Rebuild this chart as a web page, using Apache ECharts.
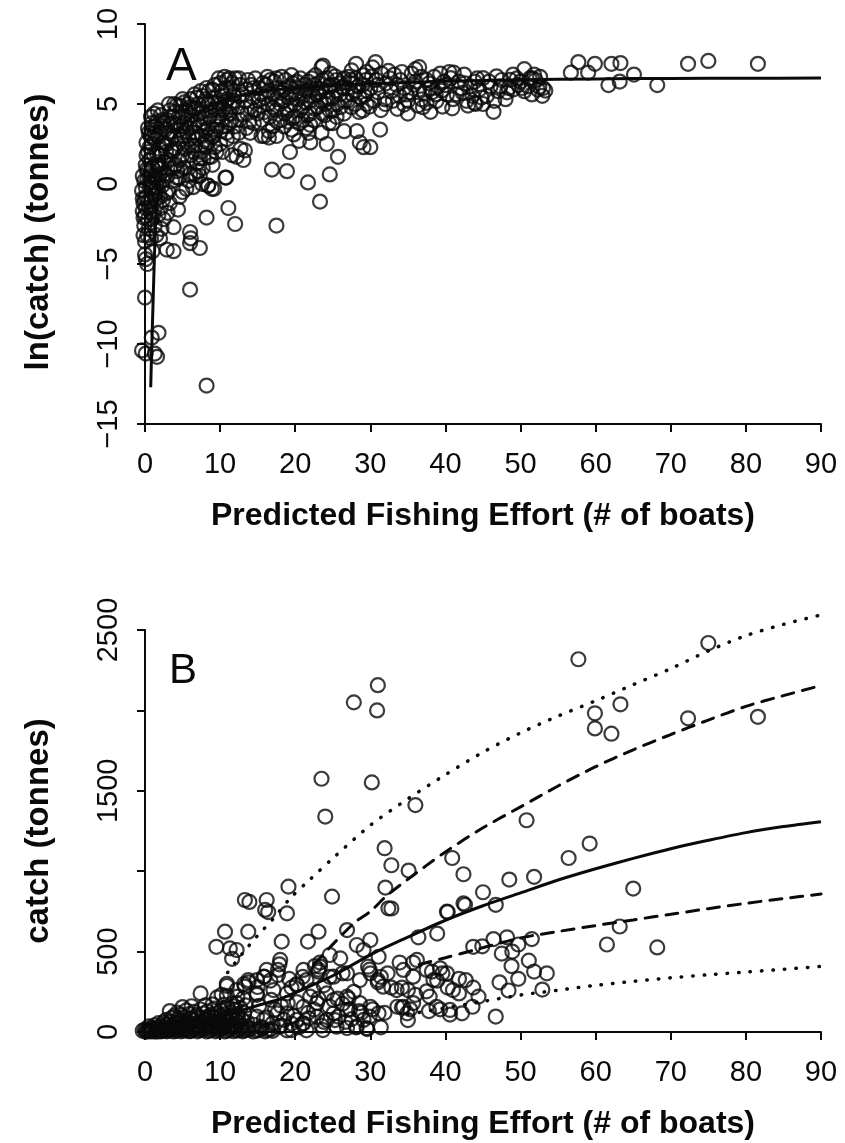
<!DOCTYPE html>
<html>
<head>
<meta charset="utf-8">
<script src="https://cdn.jsdelivr.net/npm/echarts@6/dist/echarts.min.js"></script>
<style>html,body{margin:0;padding:0;background:#fff}#c{width:845px;height:1143px}</style>
</head>
<body>
<div id="c"></div>
<script>
// ---------- data ----------
const xTicks = [0, 10, 20, 30, 40, 50, 60, 70, 80, 90];
const yTicksA = [-15, -10, -5, 0, 5, 10];
const yTicksB = [0, 500, 1000, 1500, 2000, 2500];
const yTickLabelsB = ['0', '500', '', '1500', '', '2500'];
const xTitle = 'Predicted Fishing Effort (# of boats)';
const yTitleA = 'ln(catch) (tonnes)';
const yTitleB = 'catch (tonnes)';

// Panel A: effort vs ln(catch)
const pointsA = [
[-0.4,-0.4],[-0.3,0.5],[-0.2,-1.2],[0,-2],[0.1,1.2],[0.2,-0.8],[0.3,0.3],[0.4,2],[0.5,-1.5],[0.6,1.5],[0.7,3],[0.8,0.8],[0.9,2.5],[1,-0.3],[1.1,3.6],[1.2,1.8],[1.3,-1],[1.4,2.8],[1.5,0.5],[1.6,3.9],[1.7,1.2],[1.8,-0.5],[1.9,2.2],[2,3.2],[2.1,-1.5],[2.2,1],[2.3,4],[2.4,2.6],[2.5,-2.2],[0,-0.9],[0.2,0.9],[-0.1,0.2],[0.5,-2.8],[0.9,-2.2],[1.3,-2.6],[1.8,-1.9],[2.2,-2.8],[0.3,-3.2],[-0.2,-2.1],[-0.2,-3.2],[0,-4.4],[0.1,-4.7],[0,-3.6],[0,-7.1],[-0.4,-10.4],[0.1,-10.6],[0.9,-9.6],[1.8,-9.3],[1.3,-10.6],[1.6,-10.8],[0.4,3.5],[0.8,4.2],[1.2,4.4],[0.6,-0.2],[1.5,-3.2],[2.4,0.2],[2,-3.4],[1,-4.2],[0.3,-5.0],[0.7,-1.1],[1.1,0.1],[1.6,1.9],[2.6,1.4],[2.7,3.4],
[0.2,2.6],[0.5,3.2],[0.9,3.8],[1.3,3.2],[1.7,4.6],[2.1,4.3],[2.5,3.8],[0.4,-2.2],[0.8,-3.4],[1.1,-1.9],[1.4,-0.6],[1.7,0.3],[2,-0.8],[2.3,-0.1],[2.6,0.6],[0.1,-1.5],[-0.3,-1.7],[0.6,0.5],[1.9,1.2],[2.8,2.0],[2.4,-1.0],[3,-1.8],
[-0.3,-0.9],[0.1,-0.2],[0.4,0.8],[0.7,0.1],[1.0,1.0],[1.3,0.4],[1.6,-0.2],[1.9,0.6],[2.2,1.8],[2.5,2.4],[0.2,1.8],[0.6,2.3],[1.0,2.9],[1.4,3.6],[1.8,3.0],[2.2,3.6],[-0.1,-2.6],[0.4,-1.1],[0.8,-1.7],[1.2,-0.7],
[3,0.5],[3.1,1.5],[2.9,2.5],[3.2,3.2],[3,4],[3.3,4.6],[3.1,-0.5],
[3.8,1],[3.7,2],[3.9,3],[3.8,3.8],[4,4.5],[3.9,5],
[4.5,0.4],[4.6,1.5],[4.4,2.5],[4.6,3.4],[4.5,4.2],[4.7,4.9],
[5.2,1],[5.3,2.2],[5.1,3],[5.2,3.8],[5.4,4.6],[5.2,5.1],
[6,0.6],[6.1,1.8],[5.9,2.8],[6,3.5],[6.2,4.3],[6,4.8],[6.1,5.3],
[6.8,0.5],[6.9,1.3],[6.7,2.4],[6.8,3.2],[7,4],[6.8,4.7],[6.9,5.4],
[7.6,0],[7.7,1],[7.5,2],[7.6,3],[7.8,3.8],[7.6,4.5],[7.7,5.5],
[8.4,-0.1],[8.5,1.7],[8.3,2.6],[8.4,3.5],[8.6,4.2],[8.4,5],[8.5,5.8],
[9.2,-0.3],[9.3,2.3],[9.1,3],[9.2,4],[9.4,4.7],[9.2,5.4],[9.3,6.2],
[10,2.5],[10.1,3.3],[9.9,4.2],[10,5],[10.2,5.8],[10,6.3],
[10.8,0.4],[10.9,2.8],[10.7,3.6],[10.8,4.5],[11,5.3],[10.8,6],[10.9,6.5],
[11.6,1.8],[11.7,3],[11.5,4],[11.6,4.8],[11.8,5.6],[11.6,6.3],
[3.5,2.1],[4.2,3.7],[4.9,2.8],[5.6,4.0],[6.4,3.0],[7.2,4.4],[8,3.3],[8.8,4.6],[9.6,3.6],[10.4,4.7],[11.2,3.8],[3.4,3.7],[4.1,1.2],[5.7,1.5],[6.5,2.0],[7.3,1.6],[8.1,2.3],[8.9,2.9],[9.7,5.1],[10.5,5.5],[11.3,5.0],[2.8,-0.6],[3.6,0.2],[4.8,0.9],[5.5,-0.3],[7.1,0.8],
[3.4,1.0],[3.5,2.8],[3.6,4.2],[4.0,2.2],[4.2,4.9],[4.3,0.8],[4.8,3.6],[4.9,4.5],[5.0,1.8],[5.5,3.3],[5.7,2.4],[5.8,5.0],[6.3,2.4],[6.4,4.7],[6.6,3.7],[7.0,2.9],[7.1,5.0],[7.3,3.6],[7.9,4.1],[8.0,2.7],[8.1,5.3],[8.7,3.2],[8.9,5.1],[9.0,1.2],[9.4,3.4],[9.8,4.6],[10.2,4.0],[10.3,2.0],[10.6,5.1],[10.9,3.2],[11.3,4.4],[11.4,6.0],[11.9,5.2],[12.0,3.6],[3.2,5.0],[5.0,5.3],[6.6,5.6],[7.4,5.8],[8.2,6.0],[9.0,5.9],[9.8,6.6],[10.6,6.7],[11.2,6.6],[12.0,6.6],[4.6,-0.8],[5.8,0.2],[6.4,-0.2],
[2.9,-4.1],[3.8,-4.2],[6,-6.6],[6,-3],[6.1,-3.4],[6,-3.7],[7.3,-4],[4.4,-1.6],[3.8,-2.7],[8.2,-2.1],[11.1,-1.5],[12,-2.5],[8.2,-12.6],[10.7,0.4],[8.9,-0.3],[8.4,-0.1],[7.3,0.5],[6.5,0.6],[4.2,0.4],[3.3,-1.2],[5,-0.5],[7.8,1.6],[8.8,1.7],[9.5,2],
[12.5,3.2],[12.6,4],[12.4,4.8],[12.5,5.5],[12.7,6.2],[12.5,6.6],
[13.5,3.5],[13.6,4.4],[13.4,5.2],[13.5,5.9],[13.7,6.5],
[14.5,3.8],[14.6,4.6],[14.4,5.4],[14.5,6],[14.7,6.6],
[15.5,3],[15.6,4],[15.4,4.9],[15.5,5.6],[15.7,6.3],
[16.5,3.3],[16.6,4.2],[16.4,5],[16.5,5.8],[16.7,6.5],[16.3,6.7],
[17.5,3],[17.6,3.9],[17.4,4.6],[17.5,5.3],[17.7,6],[17.5,6.6],
[18.5,3.6],[18.6,4.4],[18.4,5.2],[18.5,5.9],[18.7,6.5],
[19.5,3.4],[19.6,4.1],[19.4,4.9],[19.5,5.6],[19.7,6.3],[19.5,6.8],
[20.5,3.8],[20.6,4.6],[20.4,5.3],[20.5,6],[20.7,6.6],
[21.5,3.5],[21.6,4.3],[21.4,5.1],[21.5,5.8],[21.7,6.4],
[22.5,4],[22.6,4.7],[22.4,5.5],[22.5,6.2],[22.7,6.8],
[23.5,3.2],[23.6,4.4],[23.4,5.2],[23.5,5.9],[23.7,6.5],[23.5,7.3],
[24.5,3.8],[24.6,4.6],[24.4,5.4],[24.5,6.1],[24.7,6.9],
[25.5,4.2],[25.6,5],[25.4,5.8],[25.5,6.5],
[26.5,4.4],[26.6,5.2],[26.4,6],[26.5,6.6],
[27.5,4.8],[27.6,5.6],[27.4,6.3],[27.5,7.1],
[28.5,4.5],[28.6,5.4],[28.4,6.1],
[29.5,5],[29.6,5.8],[29.4,6.5],[29.5,7],
[12.9,4.4],[13.0,5.6],[13.9,3.9],[14.0,4.8],[14.1,6.2],[15.0,4.4],[15.1,5.2],[15.2,6.0],[15.9,4.5],[16.0,5.4],[16.1,6.2],[17.0,3.6],[17.0,4.8],[17.1,5.6],[17.2,6.4],[18.0,4.0],[18.0,5.0],[18.1,5.7],[18.2,6.7],[19.0,3.9],[19.0,4.6],[19.1,5.4],[19.2,6.1],[20.0,4.2],[20.0,5.0],[20.1,5.7],[20.2,6.4],[21.0,4.0],[21.0,4.8],[21.1,5.5],[21.2,6.2],[22.0,4.4],[22.0,5.2],[22.1,5.9],[22.2,6.6],[23.0,4.8],[23.0,5.6],[23.1,6.3],[24.0,4.3],[24.0,5.0],[24.1,5.8],[24.2,6.6],[25.0,4.6],[25.0,5.4],[25.1,6.2],[26.0,4.8],[26.0,5.6],[26.1,6.3],[27.0,5.2],[27.0,6.0],[27.1,6.7],[28.0,5.0],[28.0,5.8],[28.1,6.6],[29.0,4.6],[29.0,6.2],[29.1,6.8],[14.0,3.2],[19.8,3.1],[21.8,3.2],[25.0,3.8],
[13.1,1.5],[12.2,1.7],[13.3,2.1],[12.7,2.2],[15.9,3],[17.5,-2.6],[23.3,-1.1],[21.7,0.1],[24.6,0.6],[25.7,1.7],[24.2,2.5],[22,2.6],[19.3,2],[18.9,0.8],[16.9,0.9],[28.2,3.3],[28.6,2.6],[29.1,2.3],[30,2.3],[31.3,3.4],[22,3.7],[16.5,2.9],[20.5,2.7],[26.5,3.3],
[49,6.84],[50.5,7.18],[51.8,6.84],[52.5,6.07],[53.3,5.84],[52.9,5.51],[51.5,6.62],[49.7,6.18],[48.2,5.73],[48.6,6.51],[46.8,6.73],[46.4,4.51],[45,6.62],[43.9,6.4],[42.5,6.84],[42.6,6.29],[43.6,5.51],[43.9,5.07],[41.1,6.96],[40.7,6.62],[40,6.18],[39.5,5.84],[38.8,5.18],[39.6,4.84],[40.9,4.73],[37.8,6.29],[38.2,5.73],[37.5,5.07],[38,4.51],[36.8,5.29],[36,7.18],[36,6.4],[35.3,5.73],[35,4.4],[34.5,4.96],[33.9,5.51],[33.2,6.84],[32.4,7.07],[32.1,6.29],[31.9,5.29],[31.4,4.62],[31,5.73],[30.7,7.62],[30.3,7.29],[30.2,6.73],[29.9,4.84],[29.2,5.51],[28.1,7.51],[27.4,6.51],[26.3,6.07],[25.3,6.73],[24.6,6.18],[23.7,7.4],[24.2,5.29],[23.1,5.73],
[31,6.2],[32.8,5.8],[34,6.5],[35.5,6.9],[36.5,5.9],[37,4.8],[38.5,6.7],[39,6.1],[41.5,5.6],[42,6.0],[43,4.9],[44.5,5.9],[45.5,5.5],[46,6.1],[47,5.8],[47.5,6.5],[48,5.3],[49,5.9],[50,6.4],[50.5,5.8],[51,6.1],[52,6.5],[53,6.0],[36.5,7.3],[34.5,6.0],[33,5.2],[41,5.3],[44,5.0],[45,5.0],[38,6.0],[40.5,7.0],[42.8,5.2],[49.5,6.6],[51.5,5.6],[31.5,6.9],[35,5.2],[37.5,6.5],[39.8,6.4],
[30.5,5.2],[30.8,6.5],[32.0,5.0],[33.5,6.2],[33.6,4.7],[34.2,7.0],[35.8,6.2],[36.3,4.9],[37.2,5.7],[38.7,5.6],[39.3,6.9],[40.2,5.6],[41.8,6.4],[42.3,5.7],[43.3,6.1],[44.2,6.6],[44.8,5.4],[45.8,6.4],[46.5,5.2],[47.3,6.1],[48.4,6.0],[50.2,6.0],[51.2,6.6],[52.3,5.9],[52.6,6.7],[36.8,6.7],[34.8,5.6],[32.6,6.6],[30,6.0],
[56.7,6.96],[57.7,7.62],[59,6.96],[59.9,7.51],[61.7,6.18],[62.1,7.51],[63.3,7.56],[63.2,6.4],[65.1,6.84],[68.2,6.18],[72.3,7.51],[75,7.69],[81.6,7.51]
];

// Panel A fitted curve
const fitA = [[0.76,-12.7],[0.9,-10.2],[1.1,-7],[1.25,-4.6],[1.42,-2.4],[1.7,-0.8],[2,0.3],[2.5,1.4],[3,2.2],[4,3.1],[5,3.7],[6,4.1],[8,4.7],[10,5.15],[12,5.45],[15,5.75],[20,6.0],[25,6.15],[30,6.27],[40,6.42],[50,6.52],[60,6.57],[70,6.6],[80,6.61],[90,6.62]];

// Panel B: effort vs catch
const pointsB = [
[-0.3,8],[0,15],[0.3,5],[0.6,12],[0.9,6],[1.2,18],[1.5,8],[1.9,14],[2.3,6],[2.7,20],[3.1,9],[3.6,16],[4.1,7],[4.6,22],[5.1,10],[5.6,18],[6.1,6],[6.7,24],[7.3,12],[7.9,20],[8.5,8],[9.1,26],[9.7,12],[10.3,22],[10.9,8],[11.5,28],[12.1,14],[12.7,20],[13.3,10],[14,18],[14.8,8],[15.6,22],[16.4,12],
[0.1,2],[0.4,10],[0.7,3],[1.0,9],[1.4,2],[1.7,10],[2.0,3],[2.5,12],[2.9,4],[3.3,14],[3.8,3],[4.3,12],[4.8,4],[5.3,14],[5.8,5],[6.4,13],[7.0,4],[7.6,15],[8.2,3],[8.8,14],[9.4,4],[10.0,16],[10.6,3],[11.2,15],[11.8,5],[12.4,10],[13.0,4],[13.7,14],[14.4,3],[15.2,12],[16.0,4],[16.8,18],
[0.8,25],[1.6,28],[2.4,24],[3.2,30],[4.0,27],[4.8,33],[5.6,29],[6.4,35],[7.2,30],[8.0,37],[8.8,31],[9.6,38],[10.4,32],[11.2,40],[12.0,33],[12.8,38],[13.6,30],
[0.5,35],[1.3,42],[2.1,38],[2.9,48],[3.7,40],[4.5,52],[5.3,44],[6.1,55],[6.9,46],[7.7,58],[8.5,48],[9.3,60],[10.1,50],[10.9,62],[11.7,46],[12.5,56],
[1.8,55],[2.5,60],[3.3,64],[4.1,58],[4.9,68],[5.7,62],[6.5,72],[7.3,66],[8.1,74],[8.9,68],[9.7,78],[10.5,70],[11.3,80],[12.1,72],[12.9,78],[13.6,62],
[2.8,75],[3.6,88],[4.4,80],[5.2,92],[6,84],[6.8,96],[7.6,86],[8.4,98],[9.2,88],[10,100],[10.8,90],[11.6,102],[12.4,84],
[3.9,100],[4.7,108],[5.9,112],[6.9,106],[7.8,115],[8.8,108],[9.7,118],[10.6,110],[11.5,122],[12.3,112],[13.2,118],
[3.3,130],[4.3,120],[5.5,135],[6.5,125],[7.4,140],[8.3,128],[9.2,145],[10.1,132],[11,150],[11.9,138],[12.7,150],
[5.0,155],[6.2,160],[8.0,165],[9.0,172],[10.5,170],[11.8,160],[13.4,165],
[7.4,240],[9.6,215],[12.2,180],[10.9,300],[10.9,225],[12.2,261],[13.1,210],[10.2,231],[11.6,175],
[14.5,45],[15.5,30],[16.2,90],[17.3,140],[18.5,75],[19.0,180],[19.8,100],[20.5,30],[21.8,85],[22.5,140],[23.5,40],[24.5,160],[25.8,95],[26.3,175],[27.5,80],[27.8,250],[28.8,120],[22.0,220],[23.8,290],[19.2,330],[16.8,200],[15.0,280],
[10.65,624],[13.75,624],[9.5,530],[11.3,520],[12.2,510],[11.6,455],[18.2,562],[21.7,562],[23.1,624],[24.9,842],[19.1,904],[13.3,821],[13.9,809],[16.2,821],[16,759],[16.4,746],[18.9,738],[26.9,634],[24.6,479],[26,458],[28.2,541],[29.1,510],[30,572],[31.1,468],[29.7,406],[26.9,365],[25.1,344],[23.3,406],[23.1,375],[21.1,386],[18,448],[17.7,386],[16.2,386],[15.8,344],[14.9,323],[13.75,323],[13.3,282],[14.9,240],[17.1,261],[18.9,240],[20.2,292],[21.5,323],[22.4,261],[24.2,240],[25.1,199],[26.9,220],[28.6,323],[30,365],[31,323],[31.7,282],[33.5,261],[28.6,180],[30,157],[31.1,116],[29.1,75],[28.2,33],[29.5,25],[26.9,25],[25.5,33],[24.2,75],[22.9,95],[21.1,54],[20.2,75],[18.9,116],[17.6,116],[17.9,33],[17,54],[15.8,75],[14.9,95],[21.1,157],[22.9,180],[25.1,116],[26.9,137],[23.7,12],[21.5,10],[19.5,12],[18.9,10],
[27.8,2050],[31,2157],[30.9,2000],[57.7,2318],[75,2419],[59.9,1982],[59.9,1888],[62.1,1855],[63.3,2038],[72.3,1951],[81.6,1960],[23.5,1575],[24,1340],[30.2,1552],[36,1411],[50.8,1317],[59.2,1172],[56.4,1082],[31.9,1143],[32.8,1037],[35.1,1004],[40.9,1082],[42.4,981],[48.5,948],[51.8,965],[65,892],[32,898],[32.8,768],[40.3,746],[42.6,791],[45,869],[46.7,791],[38.9,612],[36.4,589],[61.5,544],[63.2,656],[68.2,526],[48.2,589],[46.4,578],[51.5,578],[49.7,544],[48.9,500],[44.9,533],[47.5,488],[51.1,444],[48.8,410],[51.8,376],[53.5,365],[49.7,331],[47.2,309],[48.4,258],[52.9,264],[46.7,96],[43.6,157],[43.7,276],[41.8,331],[39.6,365],[38.2,376],[38.9,320],[40.3,276],[37.8,130],[39.3,141],[40.6,108],[35.3,141],[34.2,152],[35,74],[33.9,432],[35.7,432],[34.2,276],[36,231],[37.5,253],[32.8,276],[32.3,365],[31.4,343],[29.9,388],[31,309],[30.3,141],[31.9,119],[29.9,96],[31.4,29],[29.6,18],[28.1,29],[28.5,130],[27.3,141],[27.1,208],[25.6,208],[26.3,365],[24.6,343],[23.1,388],[22.6,410],[23.3,432],[21,343],[20.2,298],[19.5,276],[17.9,421],[17.7,354],[15.9,343],[16.7,320],[13.8,309],[13.2,298],[10.9,287],[14.9,231],[12.3,220],[15.2,163],[18.1,163],[20.2,186],[21.7,119],[23.1,208],[23.8,63],[25.3,74],[26.7,63],[21,52],[19.5,52],[18.1,40],[17,7],
[34.4,386],[36.2,448],[35.7,344],[35,261],[34.4,157],[34.9,116],[33.6,157],[35.7,180],[37.9,220],[38.4,323],[37.5,386],[39.3,396],[40.2,365],[41,261],[38.8,157],[41.8,240],[42.7,323],[44.4,220],[42.2,116],[40.6,137],[42.4,800],[40.2,748],[43.7,530],[32.4,769]
];

// Panel B fitted curves
const fitB = [[2,15],[5,40],[10,95],[15,165],[18,205],[20,245],[25,350],[30,480],[35,590],[40,695],[45,785],[50,865],[55,945],[60,1015],[65,1080],[70,1140],[75,1192],[80,1240],[85,1278],[90,1308]];
const upperDashB = [[22.5,420],[25,545],[28,684],[30,750],[32,840],[35,950],[40,1120],[45,1270],[50,1400],[55,1530],[60,1650],[65,1755],[70,1850],[75,1940],[80,2025],[85,2092],[90,2155]];
const lowerDashB = [[36.5,420],[40,462],[44,512],[50,585],[55,625],[60,662],[65,697],[70,732],[75,767],[80,800],[85,830],[90,858]];
const upperDotB = [[11,370],[13,490],[15,600],[17,700],[19.3,830],[22,950],[25,1080],[30,1285],[35,1450],[40,1600],[45,1740],[50,1860],[55,1965],[60,2060],[65,2160],[70,2260],[75,2370],[80,2465],[85,2535],[90,2594]];
const lowerDotB = [[35,110],[40,150],[45,190],[50,230],[55,260],[60,290],[65,315],[70,337],[75,356],[80,373],[85,390],[90,408]];

// ---------- chart ----------
const FONT = 'Liberation Sans, Arial, Helvetica, sans-serif';
const INK = '#0a0a0a';
const chart = echarts.init(document.getElementById('c'), null, {renderer: 'canvas'});

function xAxisCfg(gridIndex) {
  return {
    type: 'value', gridIndex, min: xTicks[0], max: xTicks[xTicks.length - 1], interval: 10,
    axisLine: {show: true, onZero: false, lineStyle: {color: INK, width: 2}},
    axisTick: {show: true, length: 8, lineStyle: {color: INK, width: 2}},
    axisLabel: {show: true, fontSize: 29, color: INK, fontFamily: FONT, margin: 26, interval: 0, hideOverlap: false},
    splitLine: {show: false},
    name: xTitle, nameLocation: 'middle', nameGap: 76,
    nameTextStyle: {fontSize: 32, fontWeight: 'bold', color: INK, fontFamily: FONT}
  };
}
function yAxisCfg(gridIndex, ticks, name, fmt, pad) {
  return {
    type: 'value', gridIndex, min: ticks[0], max: ticks[ticks.length - 1], interval: ticks[1] - ticks[0],
    axisLine: {show: true, onZero: false, lineStyle: {color: INK, width: 2}},
    axisTick: {show: true, length: 8, lineStyle: {color: INK, width: 2}},
    axisLabel: {show: true, rotate: 90, fontSize: 29, color: INK, fontFamily: FONT, margin: 22, formatter: fmt, hideOverlap: false},
    splitLine: {show: false},
    name: name, nameLocation: 'middle', nameGap: 90,
    nameTextStyle: {fontSize: 33, fontWeight: 'bold', color: INK, fontFamily: FONT, padding: pad}
  };
}
const scatterStyle = {color: 'rgba(0,0,0,0)', borderColor: INK, borderWidth: 2.2};
function lineSeries(data, xi, type, width) {
  return {
    type: 'line', xAxisIndex: xi, yAxisIndex: xi, data, showSymbol: false, symbol: 'none', smooth: 0.3,
    lineStyle: {color: INK, width, type, cap: type === 'solid' ? 'butt' : 'round'}, z: 5, silent: true, clip: false
  };
}

chart.setOption({
  animation: false,
  backgroundColor: '#fff',
  title: [
    {text: 'A', left: 166, top: 44, padding: 0, textStyle: {fontSize: 46, fontWeight: 'normal', color: INK, fontFamily: FONT}},
    {text: 'B', left: 169, top: 650, padding: 0, textStyle: {fontSize: 42, fontWeight: 'normal', color: INK, fontFamily: FONT}}
  ],
  grid: [
    {left: 145, top: 24, width: 676, height: 400},
    {left: 145, top: 630, width: 676, height: 402}
  ],
  xAxis: [xAxisCfg(0), xAxisCfg(1)],
  yAxis: [
    yAxisCfg(0, yTicksA, yTitleA, v => String(v).replace('-', '\u2212'), [0, 16, 0, 0]),
    yAxisCfg(1, yTicksB, yTitleB, v => yTickLabelsB[yTicksB.indexOf(v)] ?? '', [0, 0, 0, 0])
  ],
  series: [
    {type: 'scatter', xAxisIndex: 0, yAxisIndex: 0, data: pointsA, symbol: 'circle', symbolSize: 14, itemStyle: scatterStyle, clip: false, silent: true},
    lineSeries(fitA, 0, 'solid', 3),
    {type: 'scatter', xAxisIndex: 1, yAxisIndex: 1, data: pointsB, symbol: 'circle', symbolSize: 14, itemStyle: scatterStyle, clip: false, silent: true},
    lineSeries(fitB, 1, 'solid', 3),
    lineSeries(upperDashB, 1, [12, 9], 3),
    lineSeries(lowerDashB, 1, [12, 9], 3),
    lineSeries(upperDotB, 1, [0.5, 11], 3.5),
    lineSeries(lowerDotB, 1, [0.5, 11], 3.5)
  ]
});
</script>
</body>
</html>
